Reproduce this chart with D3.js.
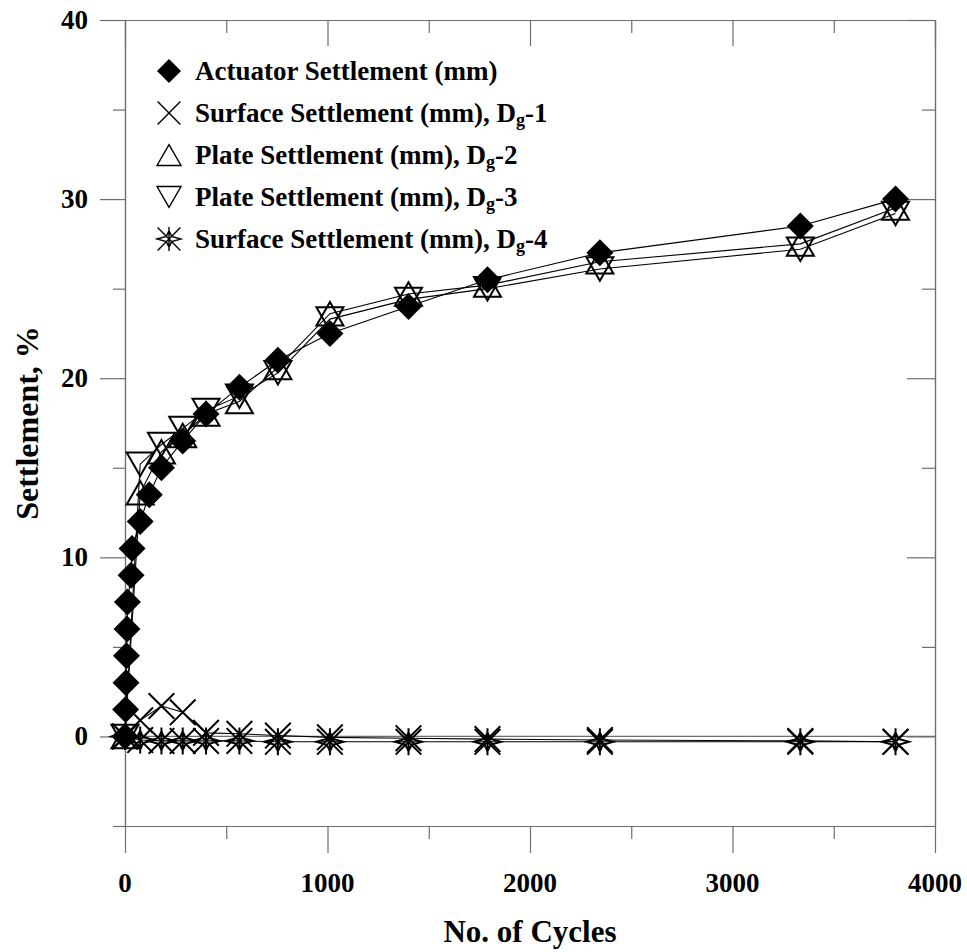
<!DOCTYPE html>
<html>
<head>
<meta charset="utf-8">
<script src="https://cdn.jsdelivr.net/npm/d3@7"></script>
<style>
  html, body { margin: 0; padding: 0; background: #fff; }
  svg { display: block; }
  text { font-family: "Liberation Serif", "Times New Roman", serif; font-weight: bold; fill: #000; }
</style>
</head>
<body>
<svg id="chart" width="967" height="952"></svg>
<script>
// ---------------- data ----------------
const actuatorCycles = [0, 3, 5, 7, 10, 12, 30, 35, 75, 120, 180, 285, 400, 565, 755, 1012, 1400, 1790, 2345, 3335, 3805];
const actuatorSettlement = [0, 1.5, 3, 4.5, 6, 7.5, 9, 10.5, 12, 13.5, 15, 16.5, 18, 19.5, 21, 22.5, 24, 25.5, 27, 28.5, 30];

const gaugeCycles = [0, 75, 180, 285, 400, 565, 755, 1012, 1400, 1790, 2345, 3335, 3805];
const surfaceDg1 = [0, 0.9, 1.7, 1.35, 0.2, 0.15, 0.05, -0.05, -0.1, -0.15, -0.2, -0.25, -0.3];
const plateDg2 = [0, 13.6, 15.9, 16.8, 18.0, 18.7, 20.6, 23.6, 24.7, 25.2, 26.5, 27.5, 29.5];
const plateDg3 = [0, 15.2, 16.3, 17.2, 18.2, 19.0, 20.3, 23.3, 24.4, 25.0, 26.1, 27.2, 29.2];
const surfaceDg4 = [0, -0.2, -0.25, -0.25, -0.25, -0.25, -0.3, -0.3, -0.3, -0.3, -0.3, -0.3, -0.3];

const xTickLabels = [0, 1000, 2000, 3000, 4000];
const yTickLabels = [0, 10, 20, 30, 40];
const legendLabels = [
  ["Actuator Settlement (mm)", null],
  ["Surface Settlement (mm), D", "-1"],
  ["Plate Settlement (mm), D", "-2"],
  ["Plate Settlement (mm), D", "-3"],
  ["Surface Settlement (mm), D", "-4"]
];

// ---------------- layout ----------------
const svg = d3.select("#chart");
const x = d3.scaleLinear().domain([0, 4000]).range([125, 935]);
const y = d3.scaleLinear().domain([-5, 40]).range([826, 20]);
const frameColor = "#6e6e6e";

const series = [
  { xs: actuatorCycles, ys: actuatorSettlement, type: "diamond" },
  { xs: gaugeCycles, ys: surfaceDg1, type: "cross" },
  { xs: gaugeCycles, ys: plateDg2, type: "up" },
  { xs: gaugeCycles, ys: plateDg3, type: "down" },
  { xs: gaugeCycles, ys: surfaceDg4, type: "star" }
];

// ---------------- axes (frame) ----------------
const xMajor = d3.range(0, 4001, 1000), xMinor = d3.range(500, 4000, 1000);
const yMajor = d3.range(0, 41, 10), yMinor = [-5, 5, 15, 25, 35];

function axisGroup(axis, tx, ty) {
  const g = svg.append("g").attr("transform", `translate(${tx},${ty})`).call(axis);
  g.selectAll("text").remove();
  g.selectAll("path,line").attr("stroke", frameColor).attr("stroke-width", 1.2);
  return g;
}
// bottom: outward ticks
axisGroup(d3.axisBottom(x).tickValues(xMajor).tickSize(27).tickSizeOuter(0), 0, y(-5));
axisGroup(d3.axisBottom(x).tickValues(xMinor).tickSize(13).tickSizeOuter(0), 0, y(-5));
// top: inward ticks
axisGroup(d3.axisBottom(x).tickValues(xMajor).tickSize(26).tickSizeOuter(0), 0, y(40));
axisGroup(d3.axisBottom(x).tickValues(xMinor).tickSize(13).tickSizeOuter(0), 0, y(40));
// left: outward
axisGroup(d3.axisLeft(y).tickValues(yMajor).tickSize(25).tickSizeOuter(0), x(0), 0);
axisGroup(d3.axisLeft(y).tickValues(yMinor).tickSize(12).tickSizeOuter(0), x(0), 0);
// right: inward
axisGroup(d3.axisLeft(y).tickValues(yMajor).tickSize(28).tickSizeOuter(0), x(4000), 0);
axisGroup(d3.axisLeft(y).tickValues(yMinor).tickSize(13).tickSizeOuter(0), x(4000), 0);
// zero line
svg.append("line").attr("x1", x(0)).attr("x2", x(4000)).attr("y1", y(0)).attr("y2", y(0))
  .attr("stroke", frameColor).attr("stroke-width", 1.2);

// tick labels
svg.append("g").selectAll("text").data(xTickLabels).join("text")
  .attr("x", d => x(d)).attr("y", 892).attr("text-anchor", "middle")
  .attr("font-size", 27).text(d => d);
svg.append("g").selectAll("text").data(yTickLabels).join("text")
  .attr("x", 88).attr("y", d => y(d)).attr("text-anchor", "end")
  .attr("dominant-baseline", "central").attr("font-size", 27).text(d => d);

// axis titles
svg.append("text").attr("x", (x(0) + x(4000)) / 2).attr("y", 942).attr("text-anchor", "middle")
  .attr("font-size", 31).text("No. of Cycles");
svg.append("text").attr("transform", `translate(38,${(y(40) + y(-5)) / 2}) rotate(-90)`)
  .attr("text-anchor", "middle").attr("font-size", 32).text("Settlement, %");

// ---------------- markers ----------------
function drawMarker(g, type, cx, cy, s, sw) {
  const h = s / 2;
  if (type === "diamond") {
    g.append("path").attr("d", `M${cx},${cy - h}L${cx + h},${cy}L${cx},${cy + h}L${cx - h},${cy}Z`)
      .attr("fill", "#000").attr("stroke", "none");
  } else if (type === "cross") {
    const k = h * 0.95;
    g.append("path").attr("d", `M${cx - k},${cy - k}L${cx + k},${cy + k}M${cx - k},${cy + k}L${cx + k},${cy - k}`)
      .attr("fill", "none").attr("stroke", "#000").attr("stroke-width", sw);
  } else if (type === "up") {
    const hh = h * 0.87;
    g.append("path").attr("d", `M${cx},${cy - hh}L${cx + h},${cy + hh}L${cx - h},${cy + hh}Z`)
      .attr("fill", "none").attr("stroke", "#000").attr("stroke-width", sw);
  } else if (type === "down") {
    const hh = h * 0.87;
    g.append("path").attr("d", `M${cx - h},${cy - hh}L${cx + h},${cy - hh}L${cx},${cy + hh}Z`)
      .attr("fill", "none").attr("stroke", "#000").attr("stroke-width", sw);
  } else if (type === "star") {
    const k = h * 0.95, i = h * 0.22;
    g.append("path").attr("d",
      `M${cx - k},${cy - k}L${cx + k},${cy + k}M${cx - k},${cy + k}L${cx + k},${cy - k}` +
      `M${cx},${cy - h}L${cx},${cy + h}` +
      `M${cx - h},${cy}L${cx - i},${cy - i}L${cx},${cy - h * 0.7}L${cx + i},${cy - i}L${cx + h},${cy}` +
      `L${cx + i},${cy + i}L${cx},${cy + h * 0.7}L${cx - i},${cy + i}Z`)
      .attr("fill", "none").attr("stroke", "#000").attr("stroke-width", sw);
  }
}

const line = d3.line().x(d => x(d[0])).y(d => y(d[1]));
const plot = svg.append("g");
series.forEach(s => {
  const pts = s.xs.map((v, i) => [v, s.ys[i]]);
  plot.append("path").attr("d", line(pts)).attr("fill", "none")
    .attr("stroke", "#000").attr("stroke-width", 1.1);
});
series.forEach(s => {
  const g = plot.append("g");
  s.xs.forEach((v, i) => drawMarker(g, s.type, x(v), y(s.ys[i]), 27, 2));
});

// ---------------- legend ----------------
const legend = svg.append("g");
legendLabels.forEach((lab, i) => {
  const cy = 71 + i * 42;
  drawMarker(legend, series[i].type, 169, cy, 24, 1.4);
  const t = legend.append("text").attr("x", 195).attr("y", cy)
    .attr("dominant-baseline", "central").attr("font-size", 27);
  t.append("tspan").text(lab[0]);
  if (lab[1]) {
    t.append("tspan").attr("font-size", 18).attr("dy", 7).text("g");
    t.append("tspan").attr("dy", -7).text(lab[1]);
  }
});
</script>
</body>
</html>
